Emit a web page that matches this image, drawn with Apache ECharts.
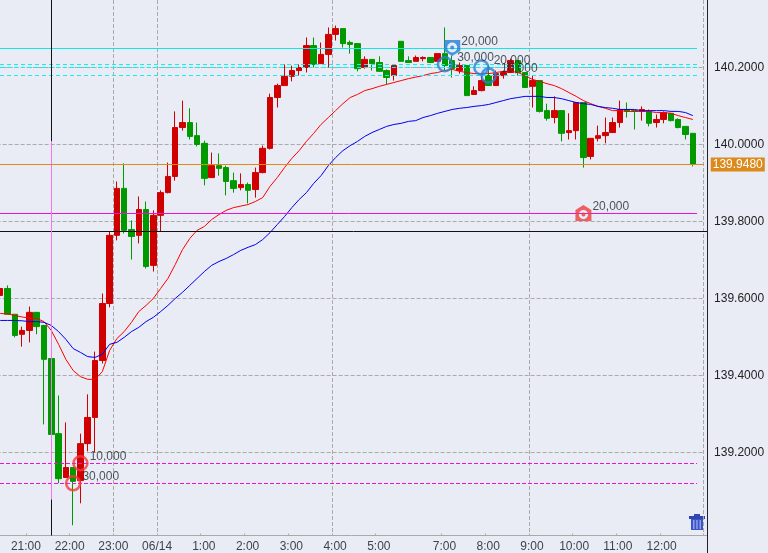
<!DOCTYPE html>
<html><head><meta charset="utf-8">
<style>html,body{margin:0;padding:0;background:#e9ecf5}#c{width:768px;height:553px}</style>
<script src="https://cdn.jsdelivr.net/npm/echarts@6/dist/echarts.min.js"></script>
</head><body><div id="c"></div>
<script>
const categories=['20:20','20:30','20:40','20:50','21:00','21:10','21:20','21:30','21:40','21:50','22:00','22:10','22:20','22:30','22:40','22:50','23:00','23:10','23:20','23:30','23:40','23:50','06/14','0:10','0:20','0:30','0:40','0:50','1:00','1:10','1:20','1:30','1:40','1:50','2:00','2:10','2:20','2:30','2:40','2:50','3:00','3:10','3:20','3:30','3:40','3:50','4:00','4:10','4:20','4:30','4:40','4:50','5:00','5:10','5:20','5:30','5:40','5:50','6:00','6:10','6:20','7:00','7:10','7:20','7:30','7:40','7:50','8:00','8:10','8:20','8:30','8:40','8:50','9:00','9:10','9:20','9:30','9:40','9:50','10:00','10:10','10:20','10:30','10:40','10:50','11:00','11:10','11:20','11:30','11:40','11:50','12:00','12:10','12:20','12:30','12:40','12:50'];
const tickLabels=['21:00','22:00','23:00','06/14','1:00','2:00','3:00','4:00','5:00','7:00','8:00','9:00','10:00','11:00','12:00'];
const gridTimes=['23:00','06/14','4:00','9:00'];
const yTicks=[139.2,139.4,139.6,139.8,140.0,140.2];
const opens=[139.608,139.626,139.559,139.507,139.517,139.564,139.530,139.444,139.249,139.135,139.161,139.127,139.223,139.291,139.439,139.587,139.764,139.886,139.779,139.764,139.831,139.686,139.816,139.875,139.917,140.044,140.057,140.023,140.003,139.914,139.945,139.940,139.906,139.888,139.896,139.883,139.927,139.990,140.122,140.153,140.177,140.192,140.200,140.257,140.210,140.234,140.286,140.301,140.265,140.262,140.200,140.221,140.213,140.192,140.179,140.268,140.218,140.216,140.223,140.226,140.216,140.236,140.218,140.192,140.205,140.130,140.140,140.179,140.153,140.179,140.187,140.218,140.187,140.151,140.166,140.088,140.070,140.088,140.031,140.036,140.109,139.969,140.016,140.023,140.031,140.057,140.091,140.088,140.086,140.086,140.057,140.065,140.081,140.065,140.047,140.029];
const closes=[139.626,139.559,139.504,139.517,139.564,139.527,139.442,139.247,139.132,139.161,139.125,139.223,139.291,139.439,139.587,139.764,139.886,139.777,139.761,139.831,139.683,139.816,139.875,139.917,140.044,140.057,140.021,140.000,139.912,139.945,139.938,139.904,139.886,139.896,139.881,139.927,139.990,140.122,140.153,140.177,140.192,140.200,140.257,140.208,140.234,140.286,140.301,140.262,140.260,140.197,140.221,140.210,140.190,140.174,140.205,140.216,140.213,140.226,140.226,140.213,140.236,140.205,140.197,140.205,140.127,140.140,140.166,140.153,140.184,140.187,140.218,140.187,140.148,140.166,140.086,140.068,140.088,140.029,140.036,140.109,139.966,140.016,140.023,140.031,140.057,140.091,140.086,140.086,140.091,140.055,140.065,140.083,140.062,140.044,140.026,139.948];
const lows=[139.600,139.559,139.499,139.475,139.486,139.507,139.273,139.247,139.120,139.135,139.011,139.068,139.203,139.200,139.431,139.577,139.751,139.769,139.701,139.743,139.678,139.670,139.774,139.873,139.906,140.036,140.013,139.995,139.894,139.914,139.919,139.868,139.875,139.881,139.847,139.862,139.925,139.987,140.096,140.153,140.164,140.179,140.187,140.200,140.210,140.200,140.270,140.252,140.236,140.190,140.197,140.192,140.190,140.156,140.166,140.216,140.213,140.216,140.216,140.213,140.216,140.192,140.174,140.184,140.127,140.130,140.138,140.153,140.153,140.171,140.187,140.179,140.148,140.096,140.083,140.062,140.055,140.008,140.013,140.013,139.940,139.961,140.008,140.003,140.031,140.044,140.070,140.039,140.062,140.047,140.044,140.055,140.060,140.042,140.013,139.943];
const highs=[139.639,139.634,139.559,139.527,139.579,139.564,139.530,139.444,139.348,139.278,139.161,139.249,139.351,139.462,139.613,139.774,139.904,139.951,139.803,139.865,139.852,139.829,139.881,139.953,140.086,140.114,140.094,140.057,140.010,139.979,139.977,139.945,139.927,139.925,139.901,139.940,139.997,140.132,140.158,140.208,140.205,140.208,140.278,140.278,140.265,140.304,140.309,140.301,140.270,140.262,140.229,140.221,140.229,140.195,140.208,140.268,140.229,140.231,140.229,140.226,140.236,140.304,140.231,140.213,140.205,140.151,140.179,140.205,140.192,140.192,140.223,140.218,140.187,140.179,140.166,140.106,140.125,140.088,140.081,140.109,140.109,140.016,140.049,140.070,140.070,140.114,140.109,140.088,140.099,140.091,140.078,140.086,140.081,140.068,140.047,140.029];
const fastAverage=[139.561,139.560,139.556,139.552,139.549,139.548,139.540,139.517,139.481,139.442,139.413,139.397,139.390,139.390,139.410,139.465,139.496,139.514,139.538,139.566,139.582,139.600,139.626,139.652,139.688,139.727,139.756,139.777,139.787,139.805,139.818,139.829,139.836,139.840,139.844,139.852,139.862,139.891,139.914,139.940,139.964,139.984,140.008,140.029,140.052,140.070,140.088,140.106,140.122,140.130,140.140,140.145,140.151,140.156,140.161,140.166,140.171,140.175,140.179,140.184,140.187,140.192,140.195,140.190,140.187,140.184,140.184,140.184,140.187,140.190,140.190,140.187,140.179,140.169,140.164,140.158,140.153,140.145,140.135,140.125,140.114,140.106,140.099,140.094,140.088,140.088,140.086,140.086,140.086,140.086,140.083,140.083,140.081,140.075,140.070,140.065];
const slowAverage=[139.543,139.543,139.543,139.542,139.540,139.540,139.538,139.530,139.514,139.494,139.470,139.460,139.449,139.447,139.455,139.481,139.486,139.499,139.514,139.525,139.540,139.551,139.566,139.582,139.600,139.616,139.634,139.652,139.670,139.686,139.696,139.704,139.714,139.725,139.733,139.740,139.753,139.771,139.792,139.813,139.836,139.857,139.875,139.899,139.919,139.945,139.966,139.984,139.997,140.008,140.021,140.031,140.039,140.047,140.052,140.055,140.060,140.062,140.070,140.075,140.081,140.086,140.091,140.094,140.096,140.099,140.101,140.104,140.109,140.114,140.119,140.122,140.125,140.125,140.125,140.122,140.122,140.119,140.114,140.109,140.106,140.104,140.099,140.096,140.094,140.091,140.091,140.091,140.088,140.088,140.088,140.088,140.086,140.086,140.083,140.075];
const lastPrice=139.948;
const cyanSolid=[140.2494];
const cyanDashed=[140.2078,140.200,140.1792];
const magentaSolid=[139.8208];
const magentaDashed=[139.1714,139.1195];
const crossPrice=139.774;
const crossTime='21:30';
const axisMin=138.9844, axisMax=140.3753;
const crossPinkFrom=140.008, crossPinkTo=139.078;
const redCircles=[['22:10',139.172,'10,000'],['22:00',139.120,'30,000']];
const blueCircles=[['7:00',140.2085,'30,000'],['7:50',140.200,'20,000'],['8:00',140.179,'10,000']];
const bluePins=[['7:10',140.2506,'20,000']];
const redPins=[['10:10',139.822,'20,000']];

const font='"Liberation Sans",Arial,sans-serif';
const txt='#222a32';
const pin='path://M0 0H16V11L8 16L0 11ZM8 2.5A5 5 0 0 0 8 12.5A5 5 0 0 0 8 2.5ZM8 5.5A2 2 0 0 1 8 9.5A2 2 0 0 1 8 5.5Z';
const housePin='path://M8 0L16 5V16H0V5ZM8 5A4.6 4.6 0 0 0 8 14.2A4.6 4.6 0 0 0 8 5ZM8 7.6A2 2 0 0 1 8 11.6A2 2 0 0 1 8 7.6Z';
function hline(v,color,type,width){
  return [{yAxis:v,x:0,lineStyle:{color,type,width},label:{show:false}},{yAxis:v,x:697}];
}
function ptLabel(off){return {show:true,position:'right',distance:1,offset:off,formatter:p=>p.data[2],fontFamily:font,fontSize:12,color:txt};}
const chart=echarts.init(document.getElementById('c'),null,{renderer:'canvas'});
chart.setOption({
  animation:false,backgroundColor:'#e9ecf5',
  grid:{left:-3.4,top:0,width:707.13,height:535.5,outerBoundsMode:'none',containLabel:false},
  xAxis:{type:'category',data:categories,boundaryGap:true,
    axisLine:{lineStyle:{color:'#aaa',width:1}},
    axisTick:{show:true,inside:true,length:2,lineStyle:{color:'#aaa'},interval:(i,n)=>tickLabels.includes(n)},
    axisLabel:{interval:(i,n)=>tickLabels.includes(n),margin:5,hideOverlap:false,fontFamily:font,fontSize:12,color:'#3a4450',
      formatter:n=>n.length==5&&n[2]==':'&&n[0]=='2'||n=='06/14'?'{a|'+n+'}':n.length==5?'{b|'+n+'}':'{c|'+n+'}',
      rich:{a:{padding:[0,7,0,0],fontFamily:font,fontSize:12,color:'#3a4450'},
            b:{padding:[0,4,0,0],fontFamily:font,fontSize:12,color:'#3a4450'},
            c:{padding:[0,1,0,0],fontFamily:font,fontSize:12,color:'#3a4450'}}},
    splitLine:{show:true,interval:(i,n)=>gridTimes.includes(n),lineStyle:{color:'#aaa',type:[4,2],width:1}}},
  yAxis:{type:'value',position:'right',offset:3.3,min:axisMin,max:axisMax,scale:true,
    axisLine:{show:false},
    axisTick:{show:false,customValues:yTicks},
    axisLabel:{customValues:yTicks,margin:7,padding:[2,0,0,0],formatter:v=>v.toFixed(4),fontFamily:font,fontSize:12,color:'#222'},
    splitLine:{show:true,lineStyle:{color:'#aaa',type:[4,2],width:1}}},
  series:[
    {type:'candlestick',name:'price',barWidth:6,z:2,
     data:opens.map((o,i)=>[o,closes[i],lows[i],highs[i]]),
     itemStyle:{color:'#d00000',color0:'#009900',borderColor:'#d00000',borderColor0:'#009900',borderWidth:1}},
    {type:'line',name:'fast',data:fastAverage,showSymbol:false,symbol:'none',z:3,lineStyle:{color:'#ff0000',width:1}},
    {type:'line',name:'slow',data:slowAverage,showSymbol:false,symbol:'none',z:3,lineStyle:{color:'#0000ee',width:1}},
    {type:'line',name:'levels',data:[],z:4,symbol:'none',
     markLine:{silent:true,symbol:'none',animation:false,precision:4,
       data:[
         ...cyanSolid.map(v=>hline(v,'#12e6e6','solid',1)),
         ...cyanDashed.map(v=>hline(v,'#10f0f0',[4,3],1)),
         ...magentaSolid.map(v=>hline(v,'#ee10dd','solid',1)),
         ...magentaDashed.map(v=>hline(v,'#ee10dd',[4,2],1)),
         [{yAxis:crossPrice,x:0,lineStyle:{color:'#111',type:'solid',width:1},label:{show:false}},{yAxis:crossPrice,x:707}],
         [{coord:[crossTime,axisMax],lineStyle:{color:'#111',type:'solid',width:1},label:{show:false}},{coord:[crossTime,crossPinkFrom]}],
         [{coord:[crossTime,crossPinkFrom],lineStyle:{color:'#f276f2',type:'solid',width:1},label:{show:false}},{coord:[crossTime,crossPinkTo]}],
         [{coord:[crossTime,crossPinkTo],lineStyle:{color:'#111',type:'solid',width:1},label:{show:false}},{coord:[crossTime,axisMin]}],
         {yAxis:lastPrice,lineStyle:{color:'#e08a14',type:'solid',width:1},
          label:{show:true,position:'end',distance:7,formatter:lastPrice.toFixed(4),color:'#fff',backgroundColor:'#dc8a1c',padding:[1,2,1,2],fontFamily:font,fontSize:12}}
       ]}},
    {type:'scatter',name:'redCircles',z:5,symbolSize:14,data:redCircles,
     itemStyle:{color:'rgba(0,0,0,0)',borderColor:'#f2393c',borderWidth:2.5},
     label:ptLabel([0,-7])},
    {type:'scatter',name:'blueCircles',z:5,symbolSize:14,data:blueCircles,
     itemStyle:{color:'rgba(0,0,0,0)',borderColor:'#2a80d8',borderWidth:2.5},
     label:ptLabel([3,-7])},
    {type:'scatter',name:'bluePins',z:6,symbol:pin,symbolSize:[16,16],data:bluePins,
     itemStyle:{color:'#1f7ed8'},label:ptLabel([0,-6])},
    {type:'scatter',name:'redPins',z:6,symbol:housePin,symbolSize:[16,16],data:redPins,
     itemStyle:{color:'#f03c3c'},label:ptLabel([0,-6])}
  ],
  graphic:[
    {type:'rect',z:100,shape:{x:707,y:0,width:1,height:553},style:{fill:'#222'}},
    {type:'rect',z:90,shape:{x:703,y:535,width:4,height:1},style:{fill:'#aaa'}},
    {type:'group',z:100,x:689,y:514,children:[
      {type:'rect',shape:{x:5,y:0,width:6,height:2},style:{fill:'#3548b0'}},
      {type:'rect',shape:{x:0,y:2,width:16,height:3},style:{fill:'#2f45b5'}},
      {type:'rect',shape:{x:2,y:5,width:12,height:11},style:{fill:'#3f55c5'}},
      {type:'rect',shape:{x:4,y:6,width:1.5,height:9},style:{fill:'#8ea0e8'}},
      {type:'rect',shape:{x:7.2,y:6,width:1.5,height:9},style:{fill:'#8ea0e8'}},
      {type:'rect',shape:{x:10.5,y:6,width:1.5,height:9},style:{fill:'#8ea0e8'}}
    ]}
  ]
});
</script></body></html>
